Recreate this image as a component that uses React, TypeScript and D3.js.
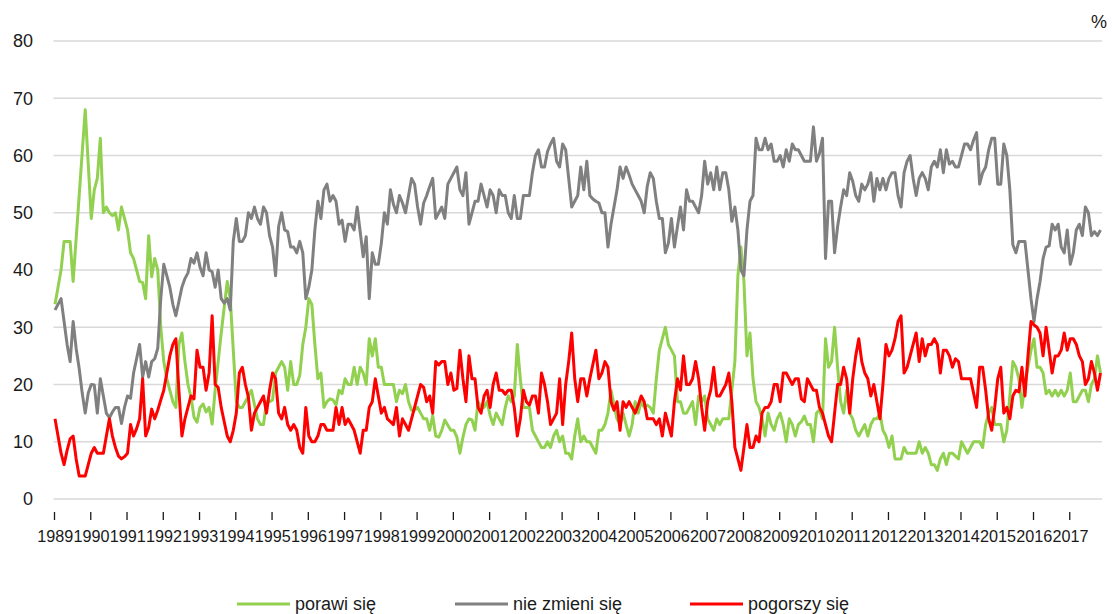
import React, { useEffect, useRef } from 'react';
import * as d3 from 'd3';

// year labels, one per 12 monthly readings
const years = [
  '1989', '1990', '1991', '1992', '1993', '1994', '1995', '1996', '1997', '1998',
  '1999', '2000', '2001', '2002', '2003', '2004', '2005', '2006', '2007', '2008',
  '2009', '2010', '2011', '2012', '2013', '2014', '2015', '2016', '2017',
];

const yTicks = [0, 10, 20, 30, 40, 50, 60, 70, 80];

// porawi się
const poprawi = [
  34, 37, 40, 45, 45, 45, 38, 45.5, 53, 60.5, 68, 58.5,
  49, 54, 56, 63, 50, 51, 50, 49.5, 50, 47, 51, 49,
  47, 43, 42, 40, 38, 37.8, 35, 46, 38.8, 42, 40, 30,
  24, 21, 19, 17, 16, 27, 29, 24, 20, 17.8, 14.3, 13.4,
  16, 16.6, 15.2, 16, 13.1, 19, 24, 29, 33.5, 38, 35, 26,
  17, 16, 16, 17, 18, 19, 16.5, 14, 13, 13, 17, 17,
  17.3, 22, 23, 24, 23, 19, 24, 20, 20, 21.6, 27, 30,
  35, 34, 27, 21, 22, 16, 17, 17.5, 17.3, 16.4, 19, 18.4,
  21, 20, 20, 23, 20, 23, 22, 20, 28, 25, 28, 23,
  23, 20, 20, 20, 20, 17, 19, 18.4, 20, 17, 15.5, 15.5,
  16, 15, 14, 14, 12, 14.6, 11, 10.8, 12, 13.8, 12.9, 12,
  12, 10.8, 8, 10.8, 13, 14, 13.8, 12, 17, 16, 16, 17,
  14.6, 13, 15, 14, 13, 16, 18, 17, 18, 27, 21, 16,
  16, 16, 12, 11, 10, 9, 9, 10, 9, 11, 12, 10,
  11, 8, 8, 7, 11, 14, 10, 11, 10, 10, 9, 8,
  12, 12, 13, 15, 19, 16.5, 14, 13, 15, 13, 11, 13,
  17, 15, 17, 16, 16.4, 16, 15, 21, 26, 28, 30, 27,
  26, 25, 17, 17, 15, 15, 16, 17, 13, 18, 17, 18,
  14, 13, 12, 14, 13, 14, 14, 14, 19, 24, 39, 44,
  38, 25, 29, 21, 17, 16, 14, 11, 15, 13, 12, 14,
  15, 13, 10, 14, 13, 11, 13, 13.5, 14.5, 13, 13, 10,
  15, 15.6, 14, 28, 23, 24, 30, 23, 17, 15, 19, 15,
  14, 12, 11, 12, 13, 11, 13, 14, 14, 15, 12, 11,
  9, 11, 7, 7, 7, 9, 8, 8, 8, 8, 10, 8,
  9, 8, 6, 6, 5, 7, 8, 6, 8, 8, 7.5, 7,
  10, 9, 8, 9, 10, 10, 10, 9, 13, 15, 16, 13,
  13, 13, 10, 12, 18, 24, 23, 21, 16, 20, 23, 26,
  28, 23, 23, 22, 18.4, 19, 18, 19, 18, 19, 18, 19,
  22, 17, 17, 18, 19, 19, 17, 20, 21, 25, 22,
];

// nie zmieni się
const nieZmieni = [
  33, 34, 35, 31, 27, 24, 31, 26.3, 22.8, 18.5, 15, 18.5,
  20, 19.9, 15, 21, 18, 15, 14.2, 15.2, 16, 16, 13.2, 16,
  18, 17.6, 22, 24.5, 27, 21.3, 24, 21.3, 24, 24.5, 26.3, 35,
  41, 39, 37, 34, 32, 34.5, 37, 38.5, 39.5, 42, 41.2, 43,
  40.5, 39, 43, 40, 39.7, 37, 40, 35, 34.2, 35, 33, 45,
  49, 45, 45, 46, 50, 49, 51, 49, 48, 51, 50, 46,
  44, 39, 47.6, 50, 47, 46.7, 44, 44, 43, 45, 43, 35,
  37, 40, 47, 52, 49, 54, 55, 52, 53, 52, 48, 48.7,
  45, 48, 48, 47, 51, 46.7, 42.3, 45.8, 35, 43, 41, 41,
  44.7, 50, 48, 54, 51.5, 50, 53, 51.7, 50, 53, 56, 55,
  51, 48, 51.7, 53, 54.6, 56, 49, 50, 51, 49, 55, 56,
  57, 58, 54, 53, 57, 48, 50, 52, 52, 55, 53, 51,
  54, 53, 50, 54, 53, 53, 50, 49, 53, 49, 49, 53,
  53, 53, 57, 60, 61, 58, 58, 60.7, 62, 63, 59, 58,
  62, 61, 56, 51, 52, 53, 58, 54, 59, 53, 52.4, 52,
  51.7, 50, 50, 44, 48, 51, 54, 58, 56, 58, 56.6, 55,
  54, 53, 52, 50, 54.6, 57, 56, 52, 49, 49, 43, 44.7,
  49, 44, 47.6, 51, 47, 54, 52, 52, 51, 50, 53, 59,
  55, 57, 54, 58, 54, 57, 57, 54, 48.5, 51, 47, 40,
  39, 47, 52, 53, 63, 61, 61, 63, 61, 62, 59, 59,
  60, 58, 61, 59, 62, 61, 61, 60, 59, 59, 59, 65,
  59, 60.4, 63, 42, 52, 52, 43, 47.6, 51, 54, 53, 57,
  55.5, 53, 52, 55, 54, 55, 57, 52, 56, 54, 56, 54,
  56, 57, 57, 53, 51, 57, 59, 60, 56, 53, 56, 57,
  56, 54, 58, 59, 58, 61, 57, 61, 58.5, 59, 58, 58,
  60, 62, 62, 61, 62.7, 64, 55, 57, 58, 61, 63, 63,
  55, 55, 62, 60, 54, 44.4, 43, 45, 45, 45, 40, 35,
  31, 35, 38, 42, 44, 44.2, 48, 47, 48, 44, 43, 47,
  41, 43, 47, 48, 46, 51, 50, 46, 46.7, 46, 47,
];

// pogorszy się
const pogorszy = [
  14, 11, 8, 6, 8.5, 10.5, 11, 7, 4, 4, 4, 6,
  8, 9, 8, 8, 8, 11, 14, 11, 9, 7.5, 7, 7.4,
  8, 13, 11, 12.3, 14, 21, 11, 12.5, 15.7, 14, 15.5, 17.3,
  19, 22, 25, 27, 28, 19, 11, 14, 16, 18, 17.5, 26,
  23, 23, 19, 22, 32, 20, 19.5, 16, 13.5, 11, 10, 12,
  15, 22, 23, 20, 17.8, 12, 15, 16, 17, 18, 15, 19,
  22, 21, 15, 14, 16, 13, 12, 13, 12, 9, 8, 16,
  11, 10, 10, 11, 13, 13, 12, 12, 12, 16, 13, 16,
  13, 14, 13, 12, 10, 8, 12, 12, 16, 17, 21, 18,
  15, 16, 14, 13.5, 13, 16, 11, 14, 13, 12, 14, 16,
  18, 20, 19.5, 17, 18, 15, 24, 23.4, 24, 24, 20, 22,
  19, 19.3, 26, 21, 17, 25, 21, 21, 16, 15, 18, 19,
  16, 20, 22, 19, 19, 18.3, 19, 19, 16, 11, 14, 19,
  17, 16.4, 18, 18, 15, 22, 20, 17, 13, 14, 15, 21,
  13, 20, 24, 29, 21, 17, 21, 21, 18, 21, 23.5, 26,
  21, 22, 24, 23, 17, 15.5, 17, 12, 17, 16, 17, 16,
  15, 16.4, 18, 17, 14, 14, 14, 13, 14, 11, 15, 13,
  11, 17, 21, 19, 25, 20, 20, 21, 24, 21, 16, 12,
  17, 19, 23, 18, 18, 19, 20, 22, 17, 9, 7, 5,
  9, 13, 9, 9, 11, 10, 15, 16, 16, 17, 20, 20,
  17, 22, 22, 21, 20, 21, 21, 17.5, 17, 21, 20, 19,
  19, 16, 15, 13, 11, 10, 15, 20, 20, 23, 21, 15,
  21, 25, 28, 24, 22, 21, 18, 20, 17, 14, 20, 27,
  25, 26, 28, 31, 32, 22, 23, 25, 27, 29, 24, 28,
  25, 27, 27, 28, 27, 22, 26, 26, 25, 23, 24.5, 24,
  21, 21, 21, 21, 18.5, 16, 23, 23, 19, 14, 12, 16,
  21, 23, 15, 16, 14, 18, 19, 18.7, 23, 18, 25, 31,
  30.4, 30, 29, 25, 30, 26, 22, 25, 25, 26, 29, 26,
  28, 28, 27, 25, 24, 20, 21, 24, 22, 19, 22,
];

const seriesNames = ['porawi się', 'nie zmieni się', 'pogorszy się'];
const seriesColors = ['#92d050', '#808080', '#ff0000'];

const App = () => {
  const ref = useRef<SVGSVGElement>(null);

  useEffect(() => {
    const svg = d3.select(ref.current);
    svg.selectAll('*').remove();

    const left = 53.5,
      right = 1102,
      top = 41,
      bottom = 499;
    const font = "'Liberation Sans', Arial, sans-serif";
    const n = nieZmieni.length;

    const x = d3.scaleLinear().domain([0, n]).range([left, right]);
    const y = d3.scaleLinear().domain([0, 80]).range([bottom, top]);

    // gridlines
    svg
      .append('g')
      .selectAll('line')
      .data(yTicks)
      .join('line')
      .attr('x1', left)
      .attr('x2', right)
      .attr('y1', (d) => y(d))
      .attr('y2', (d) => y(d))
      .attr('stroke', '#d9d9d9')
      .attr('stroke-width', 1.5);

    // y labels
    svg
      .append('g')
      .selectAll('text')
      .data(yTicks)
      .join('text')
      .attr('x', 33)
      .attr('y', (d) => y(d))
      .attr('dy', '0.35em')
      .attr('text-anchor', 'end')
      .attr('font-family', font)
      .attr('font-size', 18)
      .attr('fill', '#1a1a1a')
      .text((d) => d);

    svg
      .append('text')
      .attr('x', 1099)
      .attr('y', 22)
      .attr('dy', '0.35em')
      .attr('text-anchor', 'middle')
      .attr('font-family', font)
      .attr('font-size', 18)
      .attr('fill', '#1a1a1a')
      .text('%');

    // x ticks and year labels
    const xt = svg.append('g');
    xt.selectAll('line')
      .data(years)
      .join('line')
      .attr('x1', (_, k) => x(k * 12) + 1)
      .attr('x2', (_, k) => x(k * 12) + 1)
      .attr('y1', 512)
      .attr('y2', 520)
      .attr('stroke', '#1a1a1a')
      .attr('stroke-width', 1.3);
    xt.selectAll('text')
      .data(years)
      .join('text')
      .attr('x', (_, k) => x(k * 12) + 1.8)
      .attr('y', 542)
      .attr('text-anchor', 'middle')
      .attr('font-family', font)
      .attr('font-size', 16.2)
      .attr('fill', '#1a1a1a')
      .text((d) => d);

    // lines
    const line = d3
      .line<number>()
      .x((_, i) => x(i + 0.5))
      .y((d) => y(d));
    [poprawi, nieZmieni, pogorszy].forEach((values, s) => {
      svg
        .append('path')
        .datum(values)
        .attr('d', line)
        .attr('fill', 'none')
        .attr('stroke', seriesColors[s])
        .attr('stroke-width', 3)
        .attr('stroke-linejoin', 'round');
    });

    // legend
    const legendX = [237, 455, 690];
    const lg = svg
      .append('g')
      .selectAll('g')
      .data(seriesNames)
      .join('g')
      .attr('transform', (_, s) => 'translate(' + legendX[s] + ',604)');
    lg.append('line')
      .attr('x1', 0)
      .attr('x2', 53)
      .attr('stroke', (_, s) => seriesColors[s])
      .attr('stroke-width', 3);
    lg.append('text')
      .attr('x', 58)
      .attr('dy', '0.35em')
      .attr('font-family', font)
      .attr('font-size', 18)
      .attr('fill', '#1a1a1a')
      .text((d) => d);
  }, []);

  return (
    <svg
      ref={ref}
      width={1112}
      height={614}
      style={{ position: 'absolute', left: 0, top: 0, background: '#fff' }}
    />
  );
};

export default App;
